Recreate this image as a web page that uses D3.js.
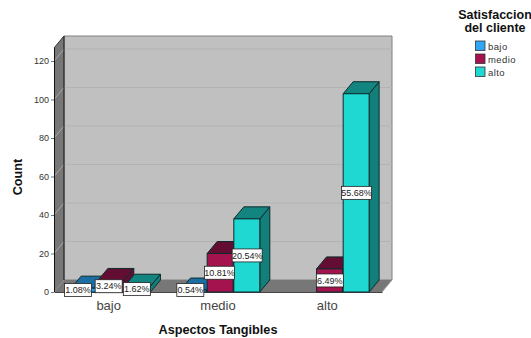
<!DOCTYPE html>
<html>
<head>
<meta charset="utf-8">
<script src="https://cdn.jsdelivr.net/npm/d3@7/dist/d3.min.js"></script>
<style>
html,body{margin:0;padding:0;background:#fff;overflow:hidden}
svg{display:block;font-family:"Liberation Sans",Arial,sans-serif}
</style>
</head>
<body>
<div id="chart"></div>
<script>
// Counts by tangible-aspects level and client satisfaction
const categories = ["bajo", "medio", "alto"];
const seriesNames = ["bajo", "medio", "alto"];
const countsBajo = [2, 1, 0];
const countsMedio = [6, 20, 12];
const countsAlto = [3, 38, 103];
const pctBajo = ["1.08%", "0.54%", null];
const pctMedio = ["3.24%", "10.81%", "6.49%"];
const pctAlto = ["1.62%", "20.54%", "55.68%"];
const yTicks = [0, 20, 40, 60, 80, 100, 120];
const axisLabels = { x: "Aspectos Tangibles", y: "Count" };
const legendTitle = ["Satisfaccion", "del cliente"];

// Per-series fills for the extruded boxes
const palette = [
  { front: "#2f9fee", top: "#1a6ea3", side: "#14567f", legend: "#33a5f5" },
  { front: "#a5134f", top: "#640d33", side: "#640d33", legend: "#a5134f" },
  { front: "#1fd8d2", top: "#138580", side: "#127f7a", legend: "#1fd8d2" }
];

const W = 531, H = 338;
const depth = { x: 10, y: -12 };           // oblique projection offset
const plot = { left: 54, right: 382, bottom: 292, top: 48 };

const svg = d3.select("#chart").append("svg").attr("width", W).attr("height", H);

const y = d3.scaleLinear().domain([0, 120]).range([plot.bottom, plot.bottom - 231]);
const x0 = d3.scaleBand().domain(categories).range([plot.left, plot.right]);
const x1 = d3.scaleBand().domain(d3.range(seriesNames.length)).range([0, 80]);
const barGroupX = c => x0(c) + x0.bandwidth() / 2 - 40 + 2.5;

const pts = a => a.map(p => p.join(",")).join(" ");
const back = (px, py) => [px + depth.x, py + depth.y];

// Walls and floor
const g = svg.append("g");
const bl = [plot.left, plot.bottom], br = [plot.right, plot.bottom], tl = [plot.left, plot.top];
const bbl = back(...bl), bbr = back(...br), btl = back(...tl), btr = back(plot.right, plot.top);

g.append("polygon").attr("points", pts([btl, btr, bbr, bbl]))
  .attr("fill", "#c0c0c0").attr("stroke", "#808080").attr("stroke-width", 1);
g.append("polygon").attr("points", pts([bl, br, bbr, bbl])).attr("fill", "#777");
g.append("polygon").attr("points", pts([tl, btl, bbl, bl])).attr("fill", "#777");

// Gridlines run across the back wall and down the left wall
yTicks.filter(t => t > 0).forEach(t => {
  const yy = y(t);
  g.append("line").attr("x1", bbl[0]).attr("x2", bbr[0])
    .attr("y1", yy + depth.y).attr("y2", yy + depth.y)
    .attr("stroke", "#b3b3b3").attr("stroke-width", 1);
  g.append("line").attr("x1", plot.left).attr("x2", bbl[0])
    .attr("y1", yy).attr("y2", yy + depth.y)
    .attr("stroke", "#b4b4b4").attr("stroke-width", 0.8);
});

// Wall edges
g.append("line").attr("x1", bbl[0]).attr("x2", bbl[0]).attr("y1", btl[1]).attr("y2", bbl[1])
  .attr("stroke", "#111").attr("stroke-width", 1);
g.append("line").attr("x1", plot.left).attr("x2", btl[0]).attr("y1", plot.top).attr("y2", btl[1])
  .attr("stroke", "#333").attr("stroke-width", 1);
g.append("line").attr("x1", plot.right).attr("x2", bbr[0]).attr("y1", plot.bottom).attr("y2", bbr[1])
  .attr("stroke", "#999").attr("stroke-width", 1);

// Y axis
const yAxis = d3.axisLeft(y).tickValues(yTicks).tickSize(3).tickPadding(2).tickFormat(d3.format("d"));
const yg = svg.append("g").attr("transform", `translate(${plot.left},0)`).call(yAxis);
yg.select(".domain").attr("d", `M0.5,${plot.top}V${plot.bottom}`).attr("stroke", "#111").attr("stroke-width", 1);
yg.selectAll(".tick line").attr("stroke", "#777");
yg.selectAll("text").attr("font-size", 9).attr("fill", "#333").attr("font-family", "Liberation Sans");

// X axis
const xAxis = d3.axisBottom(x0).tickSize(0).tickPadding(6);
const xg = svg.append("g").attr("transform", `translate(0,${plot.bottom})`).call(xAxis);
xg.select(".domain").attr("stroke", "#444").attr("stroke-width", 1);
xg.selectAll("text").attr("font-size", 13).attr("fill", "#444").attr("font-family", "Liberation Sans").attr("dy", "0.95em");

// Extruded bars, drawn back-to-front within each group
const seriesCounts = [countsBajo, countsMedio, countsAlto];
const seriesPct = [pctBajo, pctMedio, pctAlto];
const bars = [];
categories.forEach((c, ci) => {
  seriesNames.forEach((s, si) => {
    const v = seriesCounts[si][ci];
    if (v > 0) bars.push({ c, ci, si, v, pct: seriesPct[si][ci] });
  });
});

const barsG = svg.append("g");
bars.forEach(b => {
  const xl = barGroupX(b.c) + x1(b.si);
  const xr = xl + x1.bandwidth() - 0.7;
  const yt = y(b.v), yb = y(0);
  const col = palette[b.si];
  const item = barsG.append("g").attr("stroke", "#0d2b2b").attr("stroke-width", 1).attr("stroke-linejoin", "round");
  item.append("polygon").attr("points", pts([[xr, yb], [xr, yt], back(xr, yt), back(xr, yb)])).attr("fill", col.side);
  item.append("polygon").attr("points", pts([[xl, yt], [xr, yt], back(xr, yt), back(xl, yt)])).attr("fill", col.top);
  item.append("rect").attr("x", xl).attr("y", yt).attr("width", xr - xl).attr("height", yb - yt).attr("fill", col.front);
});

// Small horizontal nudges keep neighbouring value labels from colliding
const labelShift = { "0-0": -6.5, "0-1": -2.5, "0-2": -1, "1-0": -3.5, "1-1": -1 };
const minLabelY = 290;
const labels = svg.append("g");
bars.forEach(b => {
  const xl = barGroupX(b.c) + x1(b.si);
  const cx = xl + x1.bandwidth() / 2 + (labelShift[b.ci + "-" + b.si] || 0);
  const cy = Math.min((y(b.v) + y(0)) / 2, minLabelY);
  const w = b.pct.length > 5 ? 30 : 27, h = 13;
  const item = labels.append("g").attr("transform", `translate(${cx},${cy})`);
  item.append("rect").attr("x", -w / 2).attr("y", -h / 2).attr("width", w).attr("height", h)
    .attr("fill", "#fff").attr("stroke", "#222").attr("stroke-width", 0.8);
  item.append("text").attr("text-anchor", "middle").attr("y", 3.2)
    .attr("font-size", 9).attr("fill", "#222").text(b.pct);
});

// Axis titles
svg.append("text").attr("x", 218).attr("y", 334).attr("text-anchor", "middle")
  .attr("font-size", 12.7).attr("font-weight", "bold").attr("fill", "#111").text(axisLabels.x);
svg.append("text").attr("transform", "translate(22,177) rotate(-90)").attr("text-anchor", "middle")
  .attr("font-size", 12.7).attr("font-weight", "bold").attr("fill", "#111").text(axisLabels.y);

// Legend
const legend = svg.append("g");
legendTitle.forEach((t, i) => {
  legend.append("text").attr("x", 495).attr("y", 19 + i * 13).attr("text-anchor", "middle")
    .attr("font-size", 12.5).attr("font-weight", "bold").attr("fill", "#111").text(t);
});
seriesNames.forEach((s, i) => {
  const yy = 41 + i * 13;
  legend.append("rect").attr("x", 475.5).attr("y", yy).attr("width", 9.5).attr("height", 9.5)
    .attr("fill", palette[i].legend).attr("stroke", "#333").attr("stroke-width", 0.8);
  legend.append("text").attr("x", 488).attr("y", yy + 8.5)
    .attr("font-size", 9.5).attr("letter-spacing", 0.4).attr("fill", "#333").text(s);
});
</script>
</body>
</html>
